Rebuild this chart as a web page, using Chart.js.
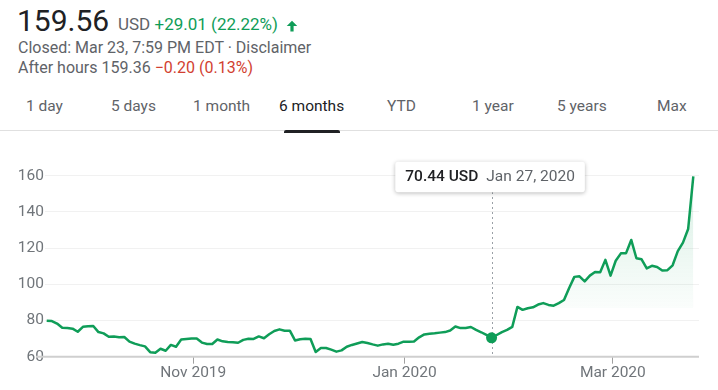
<!DOCTYPE html>
<html>
<head>
<meta charset="utf-8">
<script src="https://cdn.jsdelivr.net/npm/chart.js@4.4.1/dist/chart.umd.min.js"></script>
<style>
  html, body { margin: 0; padding: 0; background: #fff; }
  body { width: 718px; height: 390px; position: relative; overflow: hidden; font-family: Roboto, Arial, sans-serif; }
  .abs { position: absolute; white-space: nowrap; line-height: 1; }
  #price { left: 17px; top: 6px; font-size: 30px; color: #202124; }
  #chg { left: 118px; top: 15.7px; font-size: 17px; color: #5f6368; }
  #chg .up { color: #0f9d58; }
  #arrow { position: absolute; left: 286px; top: 19.5px; width: 12px; height: 12px; }
  #l2 { left: 18px; top: 39.8px; font-size: 16px; color: #5f6368; }
  #l3 { left: 18px; top: 59.8px; font-size: 16px; color: #5f6368; }
  #l3 .dn { color: #d23f31; }
  .tab { position: absolute; top: 99px; font-size: 15.5px; line-height: 1; color: #5f6368; white-space: nowrap; }
  .tab.sel { color: #202124; }
  #divider { position: absolute; left: 0; top: 130px; width: 718px; height: 1px; background: #e0e0e0; }
  #underline { position: absolute; left: 284px; top: 130px; width: 56px; height: 3px; background: #202124; border-radius: 2px 2px 0 0; }
  #wrap { position: absolute; left: 0; top: 140px; width: 718px; height: 250px; }
</style>
</head>
<body>
<div id="price" class="abs">159.56</div>
<div id="chg" class="abs">USD <span class="up">+29.01 (22.22%)</span></div>
<svg id="arrow" viewBox="0 0 24 24"><path fill="#0f9d58" d="M12 1.5L22.5 12H15.2V23H8.8V12H1.5Z"/></svg>
<div id="l2" class="abs">Closed: Mar 23, 7:59 PM EDT · Disclaimer</div>
<div id="l3" class="abs">After hours 159.36 <span class="dn">−0.20 (0.13%)</span></div>
<div id="tabs"></div>
<div id="divider"></div>
<div id="underline"></div>
<div id="wrap"><canvas id="c" width="718" height="250"></canvas></div>
<script>
// ---- data ----
const tabLabels = ['1 day', '5 days', '1 month', '6 months', 'YTD', '1 year', '5 years', 'Max'];
const startDate = '2019-09-23';
const endDate = '2020-03-23';
const marketHolidays = ['2019-11-28', '2019-12-25', '2020-01-01', '2020-01-20', '2020-02-17'];
const closePrices = [
  79.9, 79.7, 78.3, 76.0, 75.8, 75.5, 73.8, 76.5, 76.8, 77.0,
  73.6, 72.9, 71.0, 71.2, 70.8, 70.9, 68.3, 67.2, 66.4, 65.7,
  62.5, 62.2, 64.4, 63.3, 66.5, 65.5, 69.5, 69.8, 70.1, 70.0,
  67.8, 67.0, 67.0, 69.5, 68.5, 68.1, 68.0, 67.7, 69.3, 69.9,
  69.8, 71.2, 70.2, 72.4, 74.2, 75.1, 74.3, 74.4, 69.0, 69.6,
  69.9, 69.8, 62.6, 64.8, 64.8, 63.9, 62.8, 63.5, 65.5, 66.5,
  67.3, 68.1, 67.6, 66.8, 66.1, 66.8, 67.2, 66.6, 67.2, 68.3,
  68.2, 68.4, 70.7, 72.3, 72.7, 72.9, 73.3, 73.6, 74.5, 76.7,
  75.8, 75.9, 76.4, 74.8, 73.5, 72.0, 70.44, 72.0, 73.6, 74.8,
  76.5, 87.5, 85.9, 86.8, 87.3, 88.8, 89.6, 88.6, 88.2, 89.6,
  91.3, 98.0, 104.1, 104.4, 101.6, 104.8, 106.8, 106.7, 113.5, 104.8,
  113.0, 117.1, 117.2, 124.5, 114.4, 113.8, 108.8, 110.2, 109.6, 107.6,
  107.8, 110.5, 118.3, 123.0, 130.55, 159.56
];
const yTicks = [60, 80, 100, 120, 140, 160];
const xTickDates = ['2019-11-01', '2020-01-01', '2020-03-01'];
const xTickLabels = ['Nov 2019', 'Jan 2020', 'Mar 2020'];
const hoverDate = '2020-01-27';
const hoverLabel = ['70.44 USD', 'Jan 27, 2020'];

// ---- tabs ----
const tabLeft = [26, 111, 193, 279, 387, 472, 557, 657];
const tabsEl = document.getElementById('tabs');
tabLabels.forEach((t, i) => {
  const d = document.createElement('div');
  d.className = 'tab' + (t === '6 months' ? ' sel' : '');
  d.style.left = tabLeft[i] + 'px';
  d.textContent = t;
  tabsEl.appendChild(d);
});

// ---- trading dates ----
const DAY = 86400000;
function parseD(s) { const [y, m, d] = s.split('-').map(Number); return Date.UTC(y, m - 1, d); }
function fmt(t) { return new Date(t).toISOString().slice(0, 10); }
const tradingDates = [];
for (let t = parseD(startDate); t <= parseD(endDate); t += DAY) {
  const wd = new Date(t).getUTCDay();
  if (wd === 0 || wd === 6) continue;
  if (marketHolidays.includes(fmt(t))) continue;
  tradingDates.push(fmt(t));
}
// tick position: midnight of the date, in the time between two closes (16:00)
function tickIndex(ds) {
  const T = parseD(ds);
  for (let i = 0; i < tradingDates.length - 1; i++) {
    const c0 = parseD(tradingDates[i]) + 16 * 3600000;
    const c1 = parseD(tradingDates[i + 1]) + 16 * 3600000;
    if (T > c0 && T <= c1) return i + (T - c0) / (c1 - c0);
  }
  return 0;
}
const xTickValues = xTickDates.map(tickIndex);
const hoverIndex = tradingDates.indexOf(hoverDate);
const points = closePrices.map((v, i) => ({ x: i, y: v }));

const GREEN = '#0f9d58';

const decor = {
  id: 'decor',
  beforeDatasetsDraw(chart) {
    const { ctx, chartArea, scales } = chart;
    const x = scales.x.getPixelForValue(hoverIndex);
    ctx.save();
    ctx.strokeStyle = '#9aa0a6';
    ctx.lineWidth = 1;
    ctx.setLineDash([2, 3]);
    ctx.beginPath();
    ctx.moveTo(Math.round(x) + 0.5, 52);
    ctx.lineTo(Math.round(x) + 0.5, chartArea.bottom);
    ctx.stroke();
    ctx.setLineDash([]);
    // baseline
    const yb = scales.y.getPixelForValue(yTicks[0]);
    ctx.strokeStyle = '#cfcfcf';
    ctx.lineWidth = 2;
    ctx.beginPath();
    ctx.moveTo(chartArea.left - 9, yb);
    ctx.lineTo(chartArea.right, yb);
    ctx.stroke();
    ctx.restore();
  },
  afterDraw(chart) {
    const { ctx, scales } = chart;
    const x = scales.x.getPixelForValue(hoverIndex);
    ctx.save();
    const f1 = '500 15.5px Roboto';
    const f2 = '15.5px Roboto';
    ctx.font = f1; const w1 = ctx.measureText(hoverLabel[0]).width;
    ctx.font = f2; const w2 = ctx.measureText(hoverLabel[1]).width;
    const pad = 10, gap = 8;
    const w = pad + w1 + gap + w2 + pad;
    const h = 30.5;
    const bx = x - w / 2 - 1.5, by = 21.7;
    ctx.shadowColor = 'rgba(0,0,0,0.28)';
    ctx.shadowBlur = 4;
    ctx.shadowOffsetY = 1;
    ctx.fillStyle = '#fff';
    ctx.beginPath();
    ctx.roundRect(bx, by, w, h, 3);
    ctx.fill();
    ctx.shadowColor = 'transparent';
    ctx.textBaseline = 'alphabetic';
    ctx.font = f1; ctx.fillStyle = '#202124';
    ctx.fillText(hoverLabel[0], bx + pad, 40.8);
    ctx.font = f2; ctx.fillStyle = '#5f6368';
    ctx.fillText(hoverLabel[1], bx + pad + w1 + gap, 40.8);
    ctx.restore();
  }
};

new Chart(document.getElementById('c'), {
  type: 'line',
  data: {
    datasets: [{
      data: points,
      borderColor: GREEN,
      borderWidth: 2.5,
      borderJoinStyle: 'round',
      tension: 0,
      fill: 'origin',
      backgroundColor(ctx) {
        const chart = ctx.chart;
        const ys = chart.scales && chart.scales.y;
        if (!chart.chartArea || !ys) return 'rgba(15,157,88,0.08)';
        const top = ys.getPixelForValue(160);
        const bot = ys.getPixelForValue(60);
        const cut = ys.getPixelForValue(87);
        const g = chart.ctx.createLinearGradient(0, top, 0, bot);
        const k = (cut - top) / (bot - top);
        g.addColorStop(0, 'rgba(15,157,88,0.16)');
        g.addColorStop(k, 'rgba(15,157,88,0.02)');
        g.addColorStop(Math.min(1, k + 0.001), 'rgba(15,157,88,0)');
        g.addColorStop(1, 'rgba(15,157,88,0)');
        return g;
      },
      pointRadius: ctx => ctx.dataIndex === hoverIndex ? 5.5 : 0,
      pointBackgroundColor: GREEN,
      pointBorderWidth: 0,
      pointHoverRadius: 0
    }]
  },
  options: {
    responsive: false,
    animation: false,
    events: [],
    layout: { padding: { top: 35.7, right: 19, left: 0, bottom: 0 } },
    plugins: { legend: { display: false }, tooltip: { enabled: false } },
    scales: {
      x: {
        type: 'linear',
        bounds: 'data',
        min: -0.33,
        max: closePrices.length - 1 + 1.1,
        border: { display: false },
        grid: { display: true, drawOnChartArea: false, drawTicks: true, tickLength: 7, color: '#a0a0a0', lineWidth: 1 },
        ticks: {
          autoSkip: false, maxRotation: 0, padding: 0,
          color: '#70757a',
          font: { family: 'Roboto', size: 15.5 },
          callback: (v, i) => xTickLabels[i]
        },
        afterBuildTicks(scale) { scale.ticks = xTickValues.map(v => ({ value: v })); },
        afterFit(scale) { scale.height = 33.3; scale.paddingLeft = 0; scale.paddingRight = 0; }
      },
      y: {
        min: yTicks[0],
        max: yTicks[yTicks.length - 1],
        border: { display: false },
        grid: { color: '#f1f1f1', lineWidth: 1, drawTicks: false },
        ticks: {
          stepSize: 20, padding: 1,
          color: '#70757a',
          font: { family: 'Roboto', size: 15.5 }
        },
        afterBuildTicks(scale) { scale.ticks = yTicks.map(v => ({ value: v })); },
        afterFit(scale) { scale.width = 45; scale.paddingTop = 0; scale.paddingBottom = 0; }
      }
    }
  },
  plugins: [decor]
});
</script>
</body>
</html>
